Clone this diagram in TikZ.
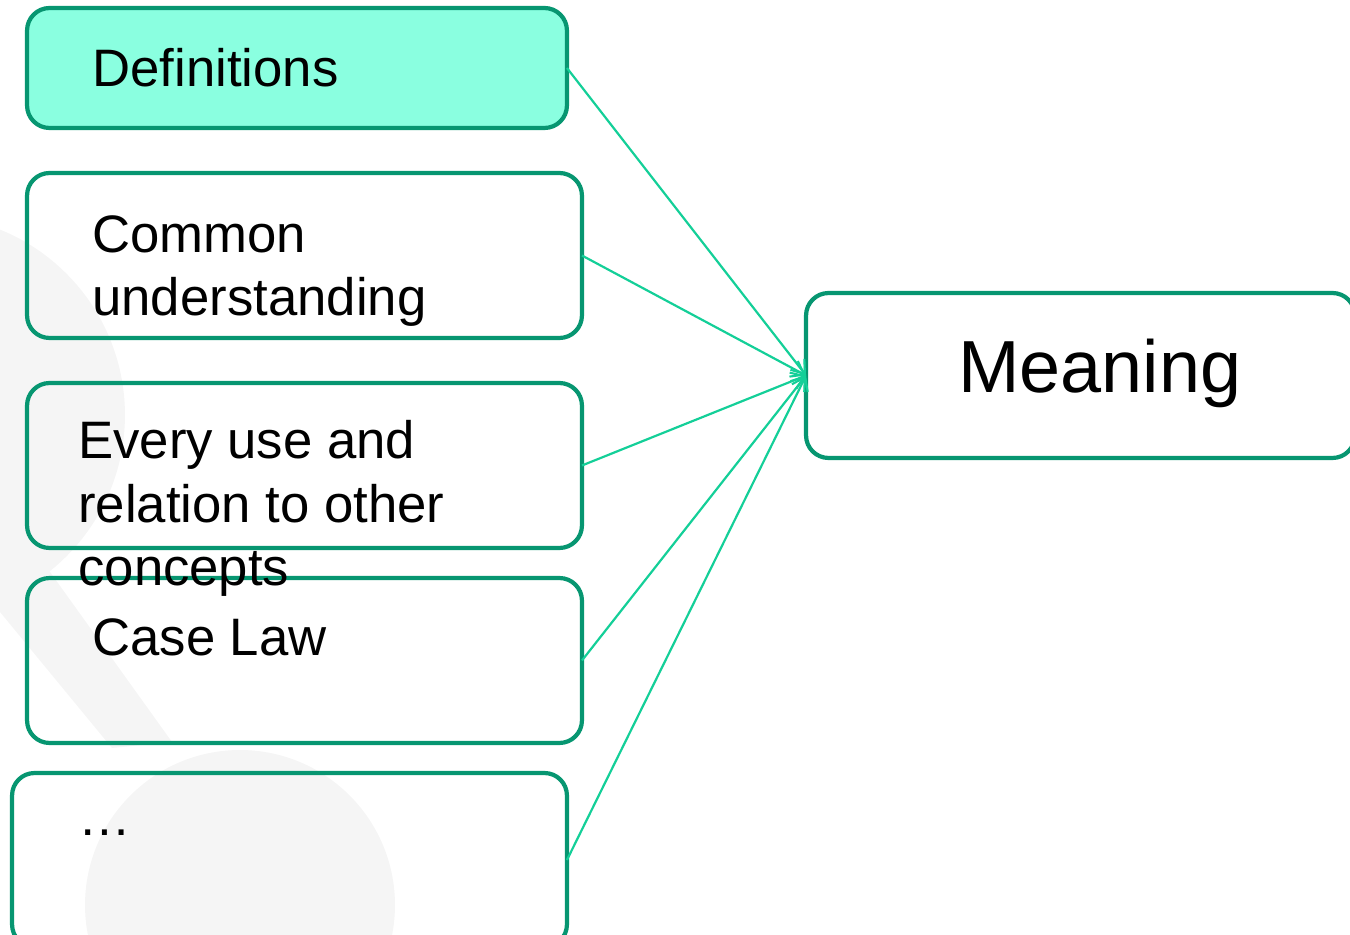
\documentclass[tikz,border=0pt]{standalone}
\usepackage{fontspec}
\setmainfont{Liberation Sans}
\usetikzlibrary{arrows.meta}

\definecolor{boxline}{RGB}{7,150,113}
\definecolor{boxfill}{RGB}{138,255,224}
\definecolor{linkc}{RGB}{20,207,152}
\definecolor{wmark}{RGB}{245,245,245}

\tikzset{
  itembox/.style={draw=boxline, line width=2.4pt, rounded corners=0.45cm,
    inner sep=0pt, outer sep=0pt},
  % multi-line labels are anchored at the baseline of their last line
  itemtext/.style={anchor=base west, inner sep=0pt, align=left,
    font=\fontsize{30}{36.4}\selectfont},
  link/.style={draw=linkc, line width=1.25pt,
    -{Straight Barb[length=7pt,width=10pt,line width=1.2pt]}},
}

\begin{document}
\begin{tikzpicture}[x=0.02cm, y=-0.02cm]
\useasboundingbox (0,0) rectangle (1350,935);

% faint watermark shapes in the background
\fill[wmark] (-75,415) circle[radius=4cm];
\fill[wmark] (240,905) circle[radius=3.1cm];
\fill[wmark] (0,565) -- (40,558) -- (172,742) -- (112,748) -- (0,612) -- cycle;

% source boxes
\node[itembox, fill=boxfill, minimum width=10.8cm, minimum height=2.4cm] (def) at (297,68) {};
\node[itembox, minimum width=11.1cm, minimum height=3.3cm] (com) at (304.5,255.5) {};
\node[itembox, minimum width=11.1cm, minimum height=3.3cm] (use) at (304.5,465.5) {};
\node[itembox, minimum width=11.1cm, minimum height=3.3cm] (case) at (304.5,660.5) {};
\node[itembox, minimum width=11.1cm, minimum height=3.48cm] (more) at (289.5,860) {};

% target box
\node[itembox, minimum width=10.98cm, minimum height=3.3cm] (mean) at (1080.5,375.5) {};

% connectors
\draw[link] (def.east) -- (mean.west);
\draw[link] (com.east) -- (mean.west);
\draw[link] (use.east) -- (mean.west);
\draw[link] (case.east) -- (mean.west);
\draw[link] (more.east) -- (mean.west);

% labels
\node[itemtext] (defl) at (92,87) {Definitions};
\node[itemtext] (coml) at (92,316) {Common\\understanding};
\node[itemtext] (usel) at (78,586) {Every use and\\relation to other\\concepts};
\node[itemtext] (casel) at (92,656) {Case Law};
\node[itemtext] (morel) at (78,836) {…};
\node[anchor=base west, inner sep=0pt, font=\fontsize{42}{50}\selectfont] (meanl) at (958,393) {Meaning};
\end{tikzpicture}
\end{document}
